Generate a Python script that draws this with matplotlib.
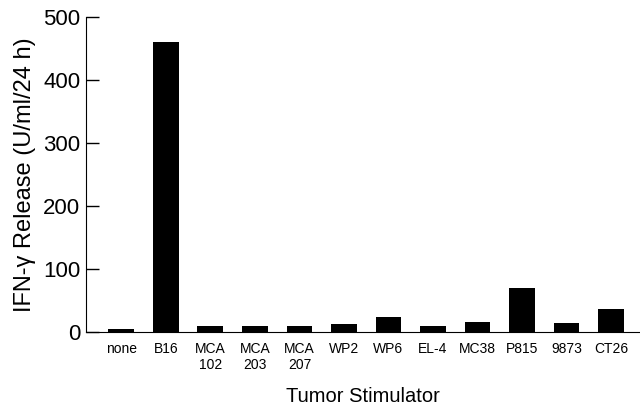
import matplotlib.pyplot as plt

plt.rcParams['font.family'] = ['Liberation Sans', 'DejaVu Sans']

# tumor stimulators and IFN-gamma release (U/ml/24 h)
stimulators = ["none", "B16", "MCA\n102", "MCA\n203", "MCA\n207", "WP2",
               "WP6", "EL-4", "MC38", "P815", "9873", "CT26"]
release = [5, 460, 10, 10, 9, 13, 24, 10, 16, 70, 15, 37]

fig = plt.figure(figsize=(6.4, 4.07), dpi=100)
ax = fig.add_axes([0.134, 0.184, 0.866, 0.774])

x = list(range(len(stimulators)))
ax.bar(x, release, width=0.58, color='black')

ax.set_xlim(-0.8, len(stimulators) - 1 + 0.65)
ax.set_ylim(0, 500)
ax.set_yticks([0, 100, 200, 300, 400, 500])
ax.set_xticks(x)
ax.set_xticklabels(stimulators, fontsize=10, va='top', linespacing=1.2)

ax.spines['top'].set_visible(False)
ax.spines['right'].set_visible(False)
ax.tick_params(axis='y', direction='in', length=9, width=1, labelsize=16, pad=4)
ax.tick_params(axis='x', length=0, pad=7)

ax.set_ylabel('IFN-γ Release (U/ml/24 h)', fontsize=17, labelpad=5)
ax.set_xlabel('Tumor Stimulator', fontsize=14.5, labelpad=11)

plt.savefig('out.png', dpi=100)
